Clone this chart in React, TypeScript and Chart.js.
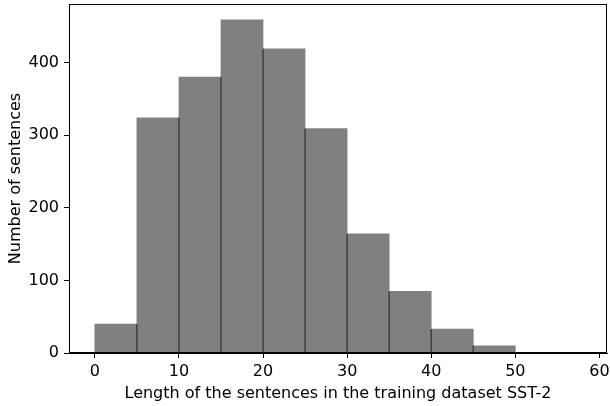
import React, { useEffect, useRef } from "react";
import { Chart, registerables } from "chart.js";

Chart.register(...registerables);

const binStarts = [0, 5, 10, 15, 20, 25, 30, 35, 40, 45];
const binWidth = 5;
const counts = [40, 324, 380, 459, 419, 309, 164, 85, 33, 10];
const xTicks = [0, 10, 20, 30, 40, 50, 60];
const yTicks = [0, 100, 200, 300, 400];
const xTitle = "Length of the sentences in the training dataset SST-2";
const yTitle = "Number of sentences";

const FONT = "'DejaVu Sans', sans-serif";
const FS = 16;

const edgePlugin = {
  id: "edges",
  afterDatasetsDraw(chart: any) {
    const { ctx, scales } = chart;
    const xs = scales.x;
    const ys = scales.y;
    ctx.save();
    ctx.strokeStyle = "rgba(0,0,0,0.5)";
    ctx.lineWidth = 1.5;
    for (let i = 0; i < counts.length - 1; i++) {
      const h = Math.min(counts[i], counts[i + 1]);
      const px = xs.getPixelForValue(binStarts[i + 1]);
      ctx.beginPath();
      ctx.moveTo(px, ys.getPixelForValue(0));
      ctx.lineTo(px, ys.getPixelForValue(h));
      ctx.stroke();
    }
    const a = chart.chartArea;
    ctx.strokeStyle = "#000";
    ctx.lineWidth = 1;
    ctx.strokeRect(a.left + 0.5, a.top + 0.5, a.right - a.left - 1, a.bottom - a.top - 1);
    ctx.restore();
  },
};

export default function App() {
  const ref = useRef<HTMLCanvasElement>(null);
  useEffect(() => {
    document.body.style.margin = "0";
    const data = binStarts.map((s, i) => ({ x: s + binWidth / 2, y: counts[i] }));
    const chart = new Chart(ref.current!, {
      type: "bar",
      data: {
        datasets: [
          {
            data: data as any,
            backgroundColor: "#808080",
            borderWidth: 0,
            barPercentage: 1,
            categoryPercentage: 1,
          },
        ],
      },
      options: {
        animation: false,
        responsive: false,
        devicePixelRatio: 1,
        layout: { padding: { top: 4, right: 3, left: 0, bottom: 0 } },
        plugins: { legend: { display: false }, tooltip: { enabled: false } },
        scales: {
          x: {
            type: "linear",
            offset: false,
            min: -3.07,
            max: 60.9,
            afterBuildTicks: (s: any) => {
              s.ticks = xTicks.map((v) => ({ value: v }));
            },
            afterFit: (s: any) => {
              s.height = 53;
              s.paddingLeft = 0;
              s.paddingRight = 0;
            },
            grid: { display: true, offset: false, drawOnChartArea: false, drawTicks: true, tickLength: 5, color: "#000" },
            border: { display: true, color: "#000" },
            ticks: { color: "#000", font: { family: FONT, size: FS }, padding: 4, maxRotation: 0 },
            title: {
              display: true,
              text: xTitle,
              color: "#000",
              font: { family: FONT, size: FS },
              padding: { top: 0, bottom: 2.5 },
            },
          },
          y: {
            type: "linear",
            min: 0,
            max: 480.7,
            afterBuildTicks: (s: any) => {
              s.ticks = yTicks.map((v) => ({ value: v }));
            },
            afterFit: (s: any) => {
              s.width = 69;
              s.paddingTop = 0;
              s.paddingBottom = 0;
            },
            grid: { display: true, drawOnChartArea: false, drawTicks: true, tickLength: 5, color: "#000" },
            border: { display: true, color: "#000" },
            ticks: { color: "#000", font: { family: FONT, size: FS }, padding: 5 },
            title: {
              display: true,
              text: yTitle,
              color: "#000",
              font: { family: FONT, size: FS },
              padding: { top: 6.5, bottom: 0 },
            },
          },
        },
      },
      plugins: [edgePlugin],
    });
    return () => chart.destroy();
  }, []);
  return (
    <div style={{ position: "absolute", left: 0, top: 0, width: 610, height: 406 }}>
      <canvas ref={ref} width={610} height={406} />
    </div>
  );
}
